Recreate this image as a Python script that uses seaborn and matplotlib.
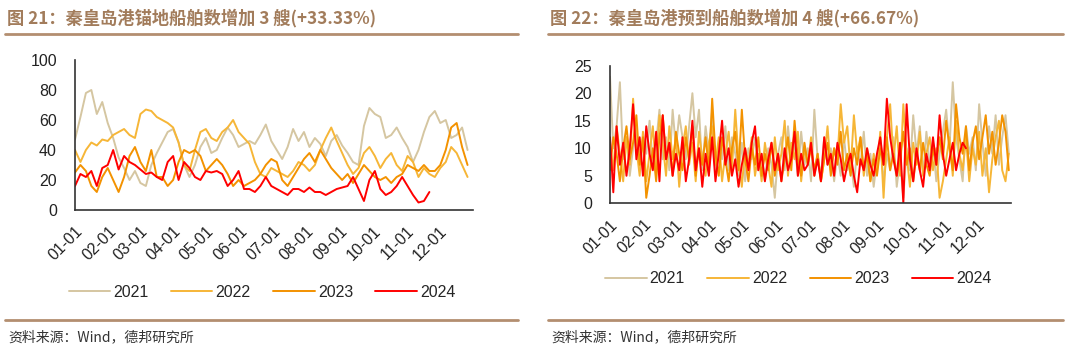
import matplotlib
matplotlib.use("Agg")
import matplotlib.pyplot as plt
import seaborn as sns
import pandas as pd
import numpy as np

# 横轴：月份刻度（以一年中的第几天计）
month_days = [0, 31, 59, 90, 120, 151, 181, 212, 243, 273, 304, 334, 365]
month_labels = ['01-01', '02-01', '03-01', '04-01', '05-01', '06-01', '07-01',
                '08-01', '09-01', '10-01', '11-01', '12-01', '']
years = ['2021', '2022', '2023', '2024']
colors = ['#D5C6A1', '#F6B637', '#F39200', '#FF0000']

# 图21 锚地船舶数（每 5 天取一个读数）
anchor_step = 5
anchor_2021 = [47, 62, 78, 80, 64, 72, 58, 48, 35, 28, 20, 26, 18, 16, 30, 38, 45, 52, 54, 45,
               30, 22, 30, 42, 48, 38, 40, 48, 55, 50, 42, 44, 46, 44, 50, 57, 46, 40, 34, 42,
               54, 46, 52, 42, 48, 44, 36, 46, 50, 43, 38, 32, 30, 56, 68, 64, 62, 48, 50, 55,
               48, 42, 32, 40, 52, 62, 66, 58, 60, 48, 50, 55, 40]
anchor_2022 = [40, 32, 40, 45, 43, 47, 46, 50, 52, 54, 50, 48, 64, 67, 66, 62, 60, 58, 55, 45,
               30, 26, 40, 52, 54, 48, 46, 52, 55, 60, 52, 48, 44, 32, 24, 22, 28, 26, 24, 22,
               26, 32, 30, 26, 30, 40, 48, 55, 46, 38, 30, 24, 28, 38, 42, 36, 28, 34, 38, 30,
               26, 36, 32, 22, 28, 24, 22, 28, 32, 42, 38, 30, 22]
anchor_2023 = [25, 30, 26, 16, 12, 22, 28, 20, 12, 22, 36, 42, 32, 26, 40, 22, 22, 16, 20, 32,
               40, 38, 40, 36, 26, 30, 34, 30, 24, 16, 20, 16, 18, 20, 24, 30, 34, 32, 20, 16,
               22, 28, 34, 38, 32, 40, 34, 28, 24, 20, 24, 18, 24, 30, 26, 22, 20, 22, 18, 22,
               24, 30, 28, 26, 30, 26, 26, 30, 40, 55, 58, 42, 30]
anchor_2024 = [16, 24, 22, 26, 16, 28, 30, 40, 27, 36, 32, 30, 27, 24, 25, 22, 20, 32, 36, 20,
               32, 28, 22, 20, 26, 25, 26, 24, 16, 20, 26, 14, 14, 12, 16, 22, 16, 14, 12, 10,
               14, 14, 12, 15, 12, 12, 10, 12, 14, 15, 16, 22, 14, 6, 20, 26, 14, 10, 12, 16,
               22, 16, 10, 5, 6, 12]

# 图22 预到船舶数（每 3 天取一个读数）
arrive_step = 3
arrive_2021 = [23, 10, 14, 22, 8, 12, 5, 10, 14, 6, 12, 9, 15, 7, 11, 17, 8, 12, 6, 17,
               10, 16, 12, 8, 14, 20, 12, 17, 6, 14, 9, 17, 5, 11, 8, 14, 6, 12, 9, 5,
               11, 4, 10, 8, 12, 6, 9, 4, 10, 7, 1, 9, 12, 6, 14, 8, 11, 5, 13, 7,
               10, 4, 17, 8, 5, 12, 7, 10, 4, 9, 5, 12, 6, 8, 3, 10, 7, 13, 5, 9,
               3, 8, 11, 4, 9, 6, 12, 3, 8, 1, 10, 6, 16, 9, 14, 5, 13, 7, 11, 4,
               9, 13, 17, 10, 22, 12, 8, 4, 14, 9, 12, 6, 18, 11, 5, 14, 9, 16, 7, 12,
               16, 9]
arrive_2022 = [11, 6, 14, 9, 4, 12, 7, 19, 10, 5, 13, 4, 9, 14, 6, 16, 11, 5, 14, 8,
               12, 3, 10, 14, 7, 11, 4, 13, 8, 5, 11, 14, 7, 12, 4, 9, 13, 6, 17, 8,
               3, 10, 7, 12, 5, 9, 4, 11, 7, 3, 12, 6, 9, 15, 5, 11, 8, 13, 4, 10,
               7, 12, 5, 9, 4, 8, 14, 6, 10, 8, 18, 11, 14, 6, 16, 9, 12, 5, 10, 4,
               9, 6, 13, 1, 12, 18, 8, 14, 5, 18, 9, 3, 11, 7, 13, 5, 9, 12, 6, 10,
               1, 4, 8, 12, 5, 15, 9, 6, 12, 4, 10, 7, 13, 5, 10, 2, 8, 12, 15, 6,
               4, 9]
arrive_2023 = [6, 12, 9, 4, 10, 14, 8, 11, 16, 7, 12, 1, 5, 10, 4, 12, 16, 8, 11, 5,
               13, 9, 6, 12, 8, 14, 5, 10, 7, 12, 6, 19, 9, 5, 12, 8, 4, 10, 13, 6,
               17, 8, 4, 10, 7, 12, 5, 9, 6, 11, 5, 9, 4, 8, 12, 6, 15, 8, 5, 11,
               7, 10, 6, 9, 4, 8, 11, 5, 10, 7, 13, 6, 9, 5, 10, 7, 12, 6, 9, 4,
               8, 5, 10, 7, 12, 6, 9, 5, 8, 13, 7, 10, 4, 9, 6, 11, 7, 5, 10, 7,
               12, 8, 15, 10, 6, 18, 12, 9, 14, 6, 11, 14, 8, 12, 16, 9, 13, 7, 11, 16,
               13, 6]
arrive_2024 = [12, 2, 14, 7, 11, 5, 10, 18, 8, 12, 5, 14, 9, 6, 13, 4, 16, 8, 11, 5,
               9, 6, 12, 4, 8, 15, 6, 10, 3, 9, 5, 12, 4, 9, 15, 7, 10, 5, 8, 3,
               7, 10, 6, 11, 14, 6, 9, 4, 8, 11, 6, 9, 4, 10, 6, 8, 13, 5, 9, 6,
               7, 11, 5, 8, 4, 12, 7, 9, 5, 11, 8, 4, 7, 9, 5, 2, 8, 6, 10, 7,
               5, 9, 12, 7, 19, 12, 8, 5, 11, 0, 18, 8, 4, 10, 6, 3, 9, 6, 12, 7,
               16, 9, 5, 8, 11, 6, 9, 11, 10]

title_left = '图 21：秦皇岛港锚地船舶数增加 3 艘(+33.33%)'
title_right = '图 22：秦皇岛港预到船舶数增加 4 艘(+66.67%)'
source_text = '资料来源：Wind，德邦研究所'

sns.set_theme(style='white')
plt.rcParams['font.family'] = ['Liberation Sans', 'Noto Sans CJK SC', 'DejaVu Sans']
cjk = ['Noto Sans CJK SC', 'DejaVu Sans']
brown = '#A27C5B'
rule = '#B38E70'

fig = plt.figure(figsize=(10.8, 3.61), dpi=100)


def draw_panel(ax, series, step, yticks):
    for vals, yr, c in zip(series, years, colors):
        x = np.arange(len(vals)) * step
        sns.lineplot(x=x, y=vals, ax=ax, color=c, lw=1.4, label=yr)
    ax.set_xlim(0, 365)
    ax.set_ylim(yticks[0], yticks[-1])
    ax.set_yticks(yticks)
    ax.set_xticks(month_days)
    ax.set_xticklabels(month_labels, rotation=45, ha='right', va='top',
                       rotation_mode='anchor')
    ax.tick_params(axis='both', direction='in', length=4, width=1, color='#333333',
                   labelsize=11.5, labelcolor='#222222')
    ax.tick_params(axis='y', pad=13)
    ax.tick_params(axis='x', pad=10)
    for s in ['top', 'right']:
        ax.spines[s].set_visible(False)
    for s in ['left', 'bottom']:
        ax.spines[s].set_color('#333333')
        ax.spines[s].set_linewidth(1.2)
    ax.set_xlabel('')
    ax.set_ylabel('')
    ax.legend(loc='center', bbox_to_anchor=(0.47, -0.55), ncol=4, frameon=False,
              fontsize=11.5, handlelength=2.6, handletextpad=0.2, columnspacing=1.4)


ax1 = fig.add_axes([75 / 1080, 1 - 210 / 361, 398 / 1080, 150 / 361])
draw_panel(ax1, [anchor_2021, anchor_2022, anchor_2023, anchor_2024], anchor_step,
           [0, 20, 40, 60, 80, 100])

ax2 = fig.add_axes([610 / 1080, 1 - 203.3 / 361, 401 / 1080, 137.6 / 361])
draw_panel(ax2, [arrive_2021, arrive_2022, arrive_2023, arrive_2024], arrive_step,
           [0, 5, 10, 15, 20, 25])

# 标题、分隔线与资料来源
for x0, x1, title in [(5, 518, title_left), (548, 1063, title_right)]:
    fig.text(x0 / 1080 + 0.002, 1 - 18 / 361, title, family=cjk, fontsize=12.4,
             fontweight='bold', color=brown, ha='left', va='center')
    fig.add_artist(plt.Line2D([x0 / 1080, x1 / 1080], [1 - 34 / 361] * 2,
                              color=rule, lw=2))
    fig.add_artist(plt.Line2D([x0 / 1080, x1 / 1080], [1 - 320 / 361] * 2,
                              color=rule, lw=2))
    fig.text(x0 / 1080 + 0.003, 1 - 337 / 361, source_text, family=cjk, fontsize=10,
             color='#333333', ha='left', va='center')

fig.savefig('out.png', dpi=100)
